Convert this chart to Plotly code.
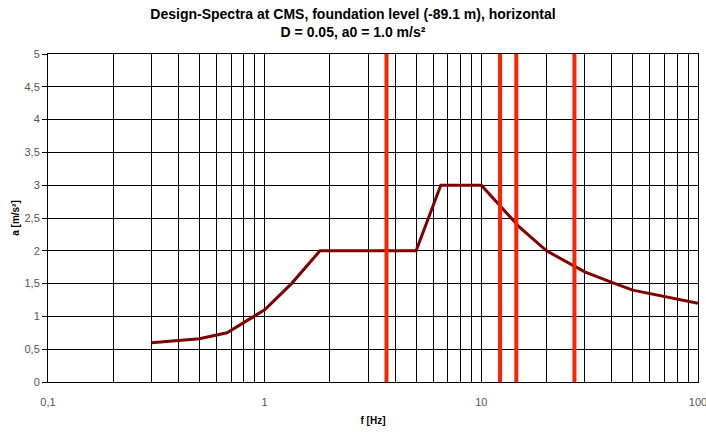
import plotly.graph_objects as go

# Design spectrum (frequency in Hz, acceleration in m/s²)
freq = [0.3, 0.5, 0.67, 1.0, 1.33, 1.8, 5.0, 6.5, 10.0, 15.0, 20.0, 30.0, 40.0, 50.0, 100.0]
accel = [0.6, 0.66, 0.75, 1.1, 1.5, 2.0, 2.0, 3.0, 3.0, 2.36, 2.0, 1.68, 1.52, 1.4, 1.2]

# Frequencies marked by red vertical lines
marker_freqs = [3.65, 12.2, 14.5, 26.9]

# Log grid positions and labels
grid_vals = [m * 10 ** e for e in (-1, 0, 1) for m in range(1, 10)] + [100]
label_map = {0.1: "0,1", 1: "1", 10: "10", 100: "100"}
y_max = 5

FONT = "Liberation Sans Narrow, Liberation Sans, Arial, sans-serif"

fig = go.Figure()
fig.add_trace(go.Scatter(x=freq, y=accel, mode="lines",
                         line=dict(color="#800000", width=3), showlegend=False))
for f in marker_freqs:
    fig.add_trace(go.Scatter(x=[f, f], y=[0, y_max], mode="lines",
                             line=dict(color="#FF2200", width=4), showlegend=False))

ticktext = []
for v in grid_vals:
    key = round(v, 6)
    ticktext.append(next((t for k, t in label_map.items() if abs(k - key) < 1e-9), ""))

fig.update_layout(
    width=706, height=433,
    margin=dict(l=48, r=8, t=54, b=51, autoexpand=False),
    paper_bgcolor="white", plot_bgcolor="white",
    separators=", ",
    font=dict(family=FONT, size=11, color="#555555"),
    title=dict(text="<b>Design-Spectra at CMS, foundation level (-89.1 m), horizontal<br>D = 0.05, a0 = 1.0 m/s²</b>",
               x=0.5, xanchor="center", xref="container",
               yref="container", y=1 - 19 / 433, yanchor="middle",
               font=dict(family=FONT, size=14, color="black")),
    xaxis=dict(type="log", range=[-1, 2], tickvals=grid_vals, ticktext=ticktext,
               showgrid=True, gridcolor="black", gridwidth=1,
               showline=True, linecolor="black", linewidth=1, mirror=True,
               ticks="", ticklabelstandoff=10, zeroline=False,
               ticklabeloverflow="allow", automargin=False,
               tickfont=dict(size=11, color="#555555"),
               title=dict(text="<b>f [Hz]</b>", standoff=9,
                          font=dict(size=10, color="black"))),
    yaxis=dict(range=[0, y_max], dtick=0.5, tick0=0,
               showgrid=True, gridcolor="black", gridwidth=1,
               showline=True, linecolor="black", linewidth=1, mirror=True,
               ticks="outside", ticklen=5, tickcolor="black", zeroline=False,
               automargin=False,
               tickfont=dict(size=11, color="#555555"),
               title=dict(text="<b>a [m/s²]</b>", standoff=3,
                          font=dict(size=10, color="black"))),
)

fig.write_html("out.html")
